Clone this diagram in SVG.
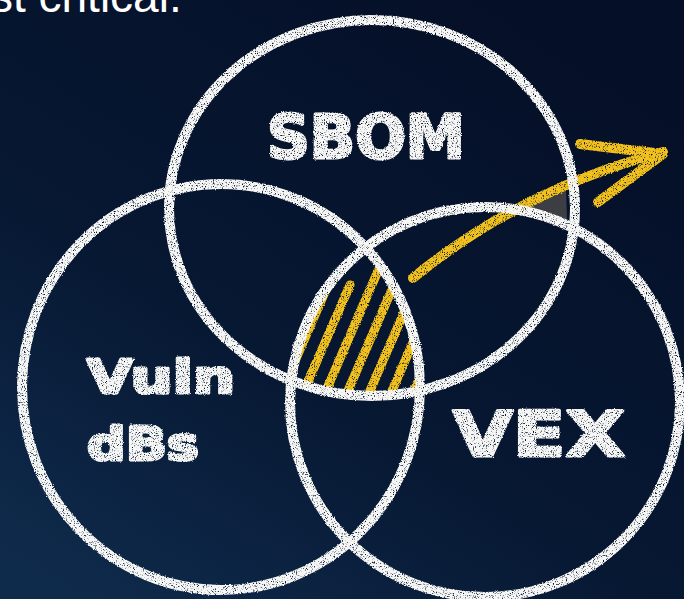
<svg xmlns="http://www.w3.org/2000/svg" width="684" height="599" viewBox="0 0 684 599">
<defs>
<linearGradient id="bg" x1="0.8" y1="0" x2="0.1" y2="1">
<stop offset="0" stop-color="#050f27"/>
<stop offset="0.6" stop-color="#071833"/>
<stop offset="1" stop-color="#0f2b4c"/>
</linearGradient>
<filter id="chalk" x="-10%" y="-10%" width="120%" height="120%">
<feTurbulence type="fractalNoise" baseFrequency="0.9" numOctaves="2" seed="4" result="n"/>
<feDisplacementMap in="SourceGraphic" in2="n" scale="2.5" xChannelSelector="R" yChannelSelector="G" result="d"/>
<feColorMatrix in="n" type="matrix" values="0 0 0 0 0  0 0 0 0 0  0 0 0 0 0  0 0 0 -5 3.8" result="mask"/>
<feComposite in="d" in2="mask" operator="in"/>
</filter>
<clipPath id="c1"><ellipse cx="372" cy="208" rx="203" ry="188"/></clipPath>
<clipPath id="c2"><ellipse cx="221" cy="387" rx="199" ry="203"/></clipPath>
<clipPath id="c3"><ellipse cx="485" cy="402" rx="195" ry="195"/></clipPath>
<style>
.ring{fill:none;stroke:#f6f6f4;stroke-width:10}
.chalktext{fill:#f6f6f4;stroke:#f6f6f4;stroke-width:3;stroke-linejoin:round;font-family:"DejaVu Sans",sans-serif;font-weight:bold}
.hatch{stroke:#f2c11c;stroke-width:9;stroke-linecap:round}
.yel{fill:none;stroke:#f2c11c;stroke-width:10;stroke-linecap:round;stroke-linejoin:round}
</style>
</defs>
<rect width="684" height="599" fill="url(#bg)"/>
<text x="-10" y="12" font-family="'Liberation Sans',Arial,sans-serif" font-size="46" fill="#ffffff">st critical.</text>
<g id="hatching" filter="url(#chalk)">
<g clip-path="url(#c1)"><g clip-path="url(#c2)"><g clip-path="url(#c3)">
<line class="hatch" x1="256" y1="400" x2="306" y2="285"/>
<line class="hatch" x1="278" y1="400" x2="328" y2="285"/>
<line class="hatch" x1="300" y1="400" x2="350" y2="285"/>
<line class="hatch" x1="322" y1="400" x2="381" y2="264"/>
<line class="hatch" x1="344" y1="400" x2="403" y2="264"/>
<line class="hatch" x1="366" y1="400" x2="425" y2="264"/>
<line class="hatch" x1="388" y1="400" x2="447" y2="264"/>
<line class="hatch" x1="410" y1="400" x2="469" y2="264"/>
<line class="hatch" x1="432" y1="400" x2="491" y2="264"/>
</g></g></g>
</g>
<polygon id="shade" points="521,209 566,189 567,219 546,214" fill="#3d3e44"/>
<g id="connectors">
<g filter="url(#chalk)">
<path class="yel" d="M413,278 Q520,190 663,152"/>
<path class="yel" d="M580,144 L663,154 L598,202"/>
</g>
</g>
<g id="sbom" filter="url(#chalk)">
<ellipse class="ring" cx="372" cy="208" rx="203" ry="188"/>
<text class="chalktext" x="267" y="158" font-size="60" textLength="198" lengthAdjust="spacingAndGlyphs">SBOM</text>
</g>
<g id="vulndbs" filter="url(#chalk)">
<ellipse class="ring" cx="221" cy="387" rx="199" ry="203"/>
<text class="chalktext" x="87" y="393" font-size="46" textLength="148" lengthAdjust="spacingAndGlyphs">Vuln</text>
<text class="chalktext" x="87" y="460" font-size="46" textLength="112" lengthAdjust="spacingAndGlyphs">dBs</text>
</g>
<g id="vex" filter="url(#chalk)">
<ellipse class="ring" cx="485" cy="402" rx="195" ry="195"/>
<text class="chalktext" x="453" y="456" font-size="62" textLength="172" lengthAdjust="spacingAndGlyphs">VEX</text>
</g>
</svg>
